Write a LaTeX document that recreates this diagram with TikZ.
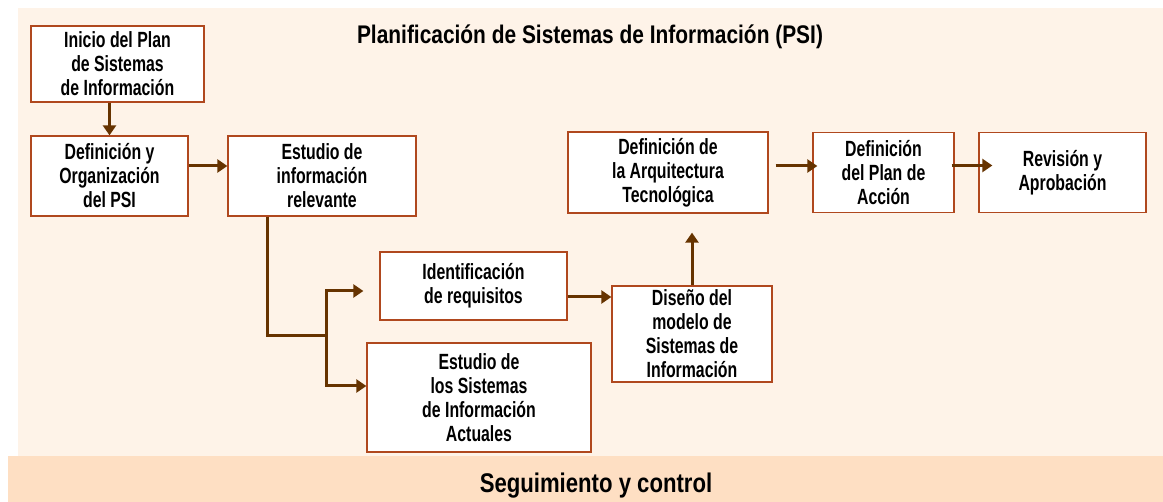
\documentclass[tikz,border=0pt]{standalone}
\usepackage{fontspec}
\newfontfamily\boxfont{Liberation Sans}[FakeStretch=0.72]
\newfontfamily\headfont{Liberation Sans}[FakeStretch=0.82]
\usetikzlibrary{arrows.meta,positioning}

\definecolor{pagebg}{RGB}{254,243,232}
\definecolor{bandbg}{RGB}{254,223,195}
\definecolor{boxline}{RGB}{176,72,30}
\definecolor{flowc}{RGB}{102,51,0}

\tikzset{
  stage/.style={draw=boxline, fill=white, line width=1.3pt, align=center, inner sep=0pt,
    font=\boxfont\bfseries\fontsize{22}{24}\selectfont},
  flow/.style={draw=flowc, line width=3pt, -{Triangle[length=10pt,width=13pt]}},
  trunk/.style={draw=flowc, line width=3pt}
}

\begin{document}
\begin{tikzpicture}[x=1pt, y=-1pt]
    \useasboundingbox (0,0) rectangle (1163,502);
    \fill[pagebg] (18,8) rectangle (1163,456);
    \fill[bandbg] (8,456) rectangle (1163,502);

    \node[anchor=base, font=\headfont\bfseries\fontsize{25.5}{28}\selectfont] (title) at (590,44) {Planificación de Sistemas de Información (PSI)};
    \node[anchor=base, font=\headfont\bfseries\fontsize{27}{30}\selectfont] (control) at (596,493) {Seguimiento y control};

    \node[stage, minimum width=173pt, minimum height=76pt] (ini) at (117.5,64) {Inicio del Plan\\de Sistemas\\de Información};
    \node[stage, minimum width=157pt, minimum height=80pt] (org) at (109.5,176) {Definición y\\Organización\\del PSI};
    \node[stage, right of=org, node distance=212.5pt, minimum width=188pt, minimum height=80pt] (rel) {Estudio de\\información\\relevante};
    \draw[flow] (ini.south -| org.north) -- (org.north);
    \draw[flow] ([yshift=10pt]org.east) -- ([yshift=10pt]rel.west);

    \node[stage, minimum width=187pt, minimum height=68pt] (req) at (473.5,286) {Identificación\\de requisitos};
    \node[stage, minimum width=224pt, minimum height=109pt] (act) at (479,397.5) {Estudio de\\los Sistemas\\de Información\\Actuales};
    \coordinate (split) at (326,336);
    \draw[trunk] ([xshift=40pt]rel.south west) |- (split);
    \draw[flow] (split) |- ([xshift=-16pt,yshift=-5pt]req.west);
    \draw[flow] (split) |- ([yshift=11.5pt]act.west);

    \node[stage, minimum width=160pt, minimum height=96pt] (dis) at (692,334) {Diseño del\\modelo de\\Sistemas de\\Información};
    \node[stage, minimum width=200pt, minimum height=81pt] (arq) at (668,172.5) {Definición de\\la Arquitectura\\Tecnológica};
    \node[stage, right of=arq, node distance=215.5pt, minimum width=141pt, minimum height=80pt] (acc) {Definición\\del Plan de\\Acción};
    \node[stage, right of=acc, node distance=179pt, minimum width=167pt, minimum height=80pt] (rev) {Revisión y\\Aprobación};
    \draw[flow] ([yshift=-11pt]req.east) -- ([yshift=-11pt]req.east -| dis.west);
    \draw[flow] (dis.north) -- ([yshift=-19pt]dis.north |- arq.south);
    \draw[flow] ([xshift=7pt,yshift=6.5pt]arq.east) -- ([xshift=5pt,yshift=6.5pt]arq.east -| acc.west);
    \draw[flow] ([xshift=-3pt,yshift=7pt]acc.east) -- ([xshift=14pt,yshift=7pt]acc.east -| rev.west);

\end{tikzpicture}
\end{document}
